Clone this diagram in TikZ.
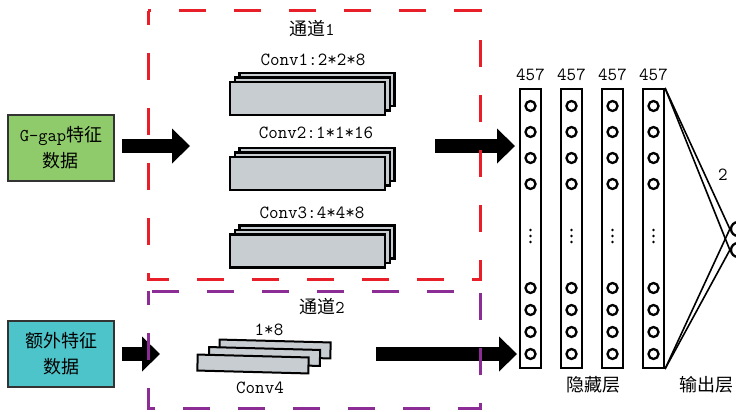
\documentclass[tikz,border=0pt]{standalone}
\usepackage{fontspec}
\newfontfamily\cjk{Noto Sans CJK SC}
\usetikzlibrary{arrows.meta,positioning}
\definecolor{cGreen}{RGB}{143,203,106}
\definecolor{cTeal}{RGB}{77,196,201}
\definecolor{cConv}{RGB}{200,205,209}
\definecolor{cRed}{RGB}{232,30,40}
\definecolor{cPurple}{RGB}{140,45,150}
\tikzset{
  featbox/.style={rectangle,draw=black!80,line width=1.8pt,minimum width=106pt,
                  minimum height=66pt,align=center,font=\cjk\fontsize{18}{26}\selectfont},
  convlayer/.style={rectangle,draw=black,line width=2.3pt,fill=cConv,
                    minimum width=155pt,minimum height=33pt,inner sep=0pt},
  thinlayer/.style={convlayer,line width=2pt,minimum width=111pt,minimum height=16pt,rotate=-1.5},
  layercol/.style={rectangle,draw=black,line width=2pt,minimum width=21pt,
                   minimum height=279pt,inner sep=0pt},
  neuron/.style={circle,draw=black,line width=2.3pt,minimum size=10pt,inner sep=0pt},
  vdot/.style={circle,fill=black,minimum size=2.6pt,inner sep=0pt},
  chanbox/.style={dash pattern=on 27pt off 28pt,dash phase=13pt,line width=3pt},
  bigarr/.style={-{Triangle[length=18pt,width=35pt,line width=0pt]},line width=14pt},
  fcline/.style={line width=1.6pt},
  lbl/.style={font=\ttfamily\fontsize{18.5}{20}\selectfont,inner sep=0pt},
  cnlbl/.style={font=\cjk\fontsize{18}{20}\selectfont,inner sep=0pt}
}

\begin{document}
\begin{tikzpicture}[x=1pt,y=-1pt]
  \useasboundingbox (0,0) rectangle (736,412);

  % input data
  \node[featbox,fill=cGreen] (gg) at (61,148) {{\ttfamily G-gap}特征\\数据};
  \node[featbox,fill=cTeal]  (ex) at (61,354) {额外特征\\数据};

  % channel 1: three conv stacks
  \foreach \n/\y in {1/98.5,2/173.5,3/251}{
    \node[convlayer] (c\n c) at (317,\y-9) {};
    \node[convlayer] (c\n b) at (312.5,\y-4.5) {};
    \node[convlayer] (c\n a) at (307.5,\y) {};
  }
  \node[cnlbl] (t1) at (312,29) {通道{\ttfamily 1}};
  \node[lbl] (l1) at (313,60)  {Conv1:2*2*8};
  \node[lbl] (l2) at (316,133) {Conv2:1*1*16};
  \node[lbl] (l3) at (312,213) {Conv3:4*4*8};

  % channel 2
  \node[thinlayer] (c4c) at (275,349) {};
  \node[thinlayer] (c4b) at (264.5,356.5) {};
  \node[thinlayer] (c4a) at (253,364) {};
  \node[cnlbl] (t2) at (322,307) {通道{\ttfamily 2}};
  \node[lbl] (l4) at (269,330) {1*8};
  \node[lbl] (l5) at (260,388) {Conv4};

  % hidden layers
  \foreach \i in {1,...,4}{
    \pgfmathsetmacro\cx{489.5+41*\i}
    \node[layercol] (h\i) at (\cx,228.5) {};
    \node[lbl,above=7pt of h\i] (n\i) {457};
    \foreach \y/\k in {106/1,132/2,158/3,184/4,288/5,310/6,332/7,354/8}
      \node[neuron] (h\i-\k) at (\cx,\y) {};
    \foreach \y in {230,236,242}
      \node[vdot] (h\i-d\y) at (\cx,\y) {};
  }
  \node[cnlbl] (hid) at (593,385) {隐藏层};

  % output layer
  \node[neuron,minimum size=14pt] (o1) at (738,229) {};
  \node[neuron,minimum size=14pt] (o2) at (738,250) {};
  \foreach \o in {o1,o2}{
    \draw[fcline] (h4.north east) -- (\o.west);
    \draw[fcline] (h4.south east) -- (\o.west);
  }
  \node[lbl] (on) at (723,175) {2};
  \node[cnlbl] (outl) at (706,385) {输出层};

  % big arrows
  \coordinate (in1) at (190,146);
  \coordinate (in2) at (160,354);
  \coordinate (out1) at (435,146);
  \coordinate (out2) at (376,354);
  \draw[bigarr,shorten <=7pt] (gg.east |- in1) -- (in1);
  \draw[bigarr,shorten <=7pt] (ex.east |- in2) -- (in2);
  \draw[bigarr,shorten >=4pt] (out1) -- (out1 -| h1.west);
  \draw[bigarr,shorten >=2pt] (out2) -- (out2 -| h1.west);

  % channel frames
  \draw[chanbox,cRed]    (148,11)  rectangle (480,279);
  \draw[chanbox,cPurple] (148,291) rectangle (480,408);
\end{tikzpicture}
\end{document}
